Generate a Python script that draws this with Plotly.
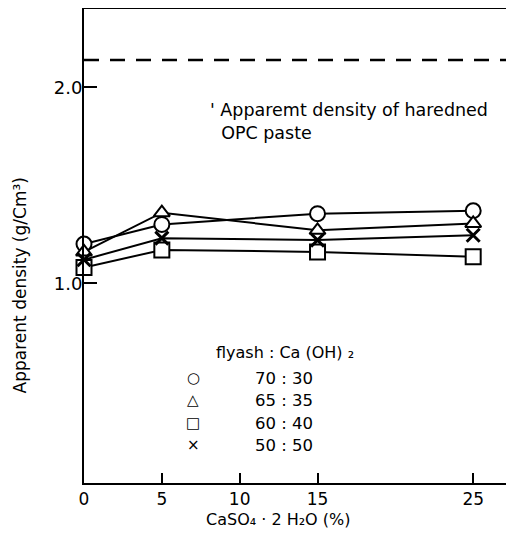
import plotly.graph_objects as go

# ---- data ----
caso4_pct = [0, 5, 15, 25]
dens_70_30 = [1.20, 1.30, 1.355, 1.37]
dens_65_35 = [1.16, 1.36, 1.27, 1.305]
dens_60_40 = [1.08, 1.17, 1.16, 1.135]
dens_50_50 = [1.12, 1.23, 1.22, 1.245]
opc_density = 2.14

x_tick_vals = [0, 5, 10, 15, 25]
x_tick_text = ["0", "5", "10", "15", "25"]
y_tick_vals = [1.0, 2.0]
y_tick_text = ["1.0", "2.0"]

ratio_labels = ["70\u00a0:\u00a030", "65\u00a0:\u00a035", "60\u00a0:\u00a040", "50\u00a0:\u00a050"]
legend_glyphs = ["\u25cb", "\u25b3", "\u25a1", "\u00d7"]

series = [
    (dens_70_30, "circle", 15),
    (dens_65_35, "triangle-up", 14),
    (dens_60_40, "square", 15),
    (dens_50_50, "x-thin", 13),
]

X_MAX = 27.3
Y_MIN, Y_MAX = -0.02, 2.40

# page has an 8px body margin; figure coordinates = page - 8
OFF = 8
L, R, T, B = 84, 509, 8, 483   # plot area in page pixels
FIG_W, FIG_H = 514 - OFF, 536 - OFF


def px(xp):
    return (xp - L) / (R - L)


def py(yp):
    return (B - yp) / (B - T)


fig = go.Figure()

for ys, sym, sz in series:
    if sym == "x-thin":
        marker = dict(symbol="x-thin", size=sz, color="black",
                      line=dict(color="black", width=3))
    else:
        marker = dict(symbol=sym, size=sz, color="white",
                      line=dict(color="black", width=2))
    fig.add_trace(go.Scatter(x=caso4_pct, y=ys, mode="lines+markers",
                             line=dict(color="black", width=2),
                             marker=marker, showlegend=False,
                             cliponaxis=False))

# OPC reference dashed line
fig.add_trace(go.Scatter(x=[0, X_MAX], y=[opc_density, opc_density], mode="lines",
                         line=dict(color="black", width=2.5, dash="15px,11px"),
                         showlegend=False))

font = "DejaVu Sans"
annotations = [
    dict(x=px(208), y=py(121), xref="paper", yref="paper", xanchor="left", yanchor="middle",
         align="left", showarrow=False,
         text="' Apparemt density of haredned<br>\u00a0\u00a0OPC paste",
         font=dict(family=font, size=17.5, color="black")),
    dict(x=px(214), y=py(352), xref="paper", yref="paper",
         xanchor="left", yanchor="middle", showarrow=False,
         text="flyash\u00a0:\u00a0Ca\u00a0(OH)\u00a0\u2082",
         font=dict(family=font, size=16, color="black")),
    dict(x=px(20), y=py(285), xref="paper", yref="paper",
         xanchor="center", yanchor="middle", showarrow=False, textangle=-90,
         text="Apparent density (g/Cm\u00b3)",
         font=dict(family=font, size=17, color="black")),
    dict(x=px(278), y=py(520), xref="paper", yref="paper",
         xanchor="center", yanchor="middle", showarrow=False,
         text="CaSO\u2084\u00a0\u00b7\u00a02\u00a0H\u2082O\u00a0(%)",
         font=dict(family=font, size=16, color="black")),
]
row_px = [378, 400, 423, 445]
for ry, g, lab in zip(row_px, legend_glyphs, ratio_labels):
    annotations.append(dict(x=px(193), y=py(ry), xref="paper", yref="paper",
                            xanchor="center", yanchor="middle", showarrow=False,
                            text=g, font=dict(family=font, size=15, color="black")))
    annotations.append(dict(x=px(253), y=py(ry), xref="paper", yref="paper",
                            xanchor="left", yanchor="middle", showarrow=False,
                            text=lab, font=dict(family=font, size=16.5, color="black")))

fig.update_layout(
    width=FIG_W, height=FIG_H,
    margin=dict(l=L - OFF, r=514 - R, t=T - OFF + 1, b=536 - B),
    paper_bgcolor="white", plot_bgcolor="white",
    annotations=annotations,
    font=dict(family=font, size=17, color="black"),
)
fig.update_xaxes(range=[0, X_MAX], tickvals=x_tick_vals, ticktext=x_tick_text,
                 ticks="inside", ticklen=10, tickwidth=2, tickcolor="black",
                 showline=True, linewidth=2, linecolor="black", mirror=True,
                 showgrid=False, zeroline=False, automargin=False,
                 tickfont=dict(family=font, size=17, color="black"))
fig.update_yaxes(range=[Y_MIN, Y_MAX], tickvals=y_tick_vals, ticktext=y_tick_text,
                 ticks="inside", ticklen=13, tickwidth=2, tickcolor="black",
                 showline=True, linewidth=2, linecolor="black", mirror=True,
                 showgrid=False, zeroline=False, automargin=False,
                 ticklabelstandoff=-4,
                 tickfont=dict(family=font, size=18, color="black"))

fig.write_html("out.html")
